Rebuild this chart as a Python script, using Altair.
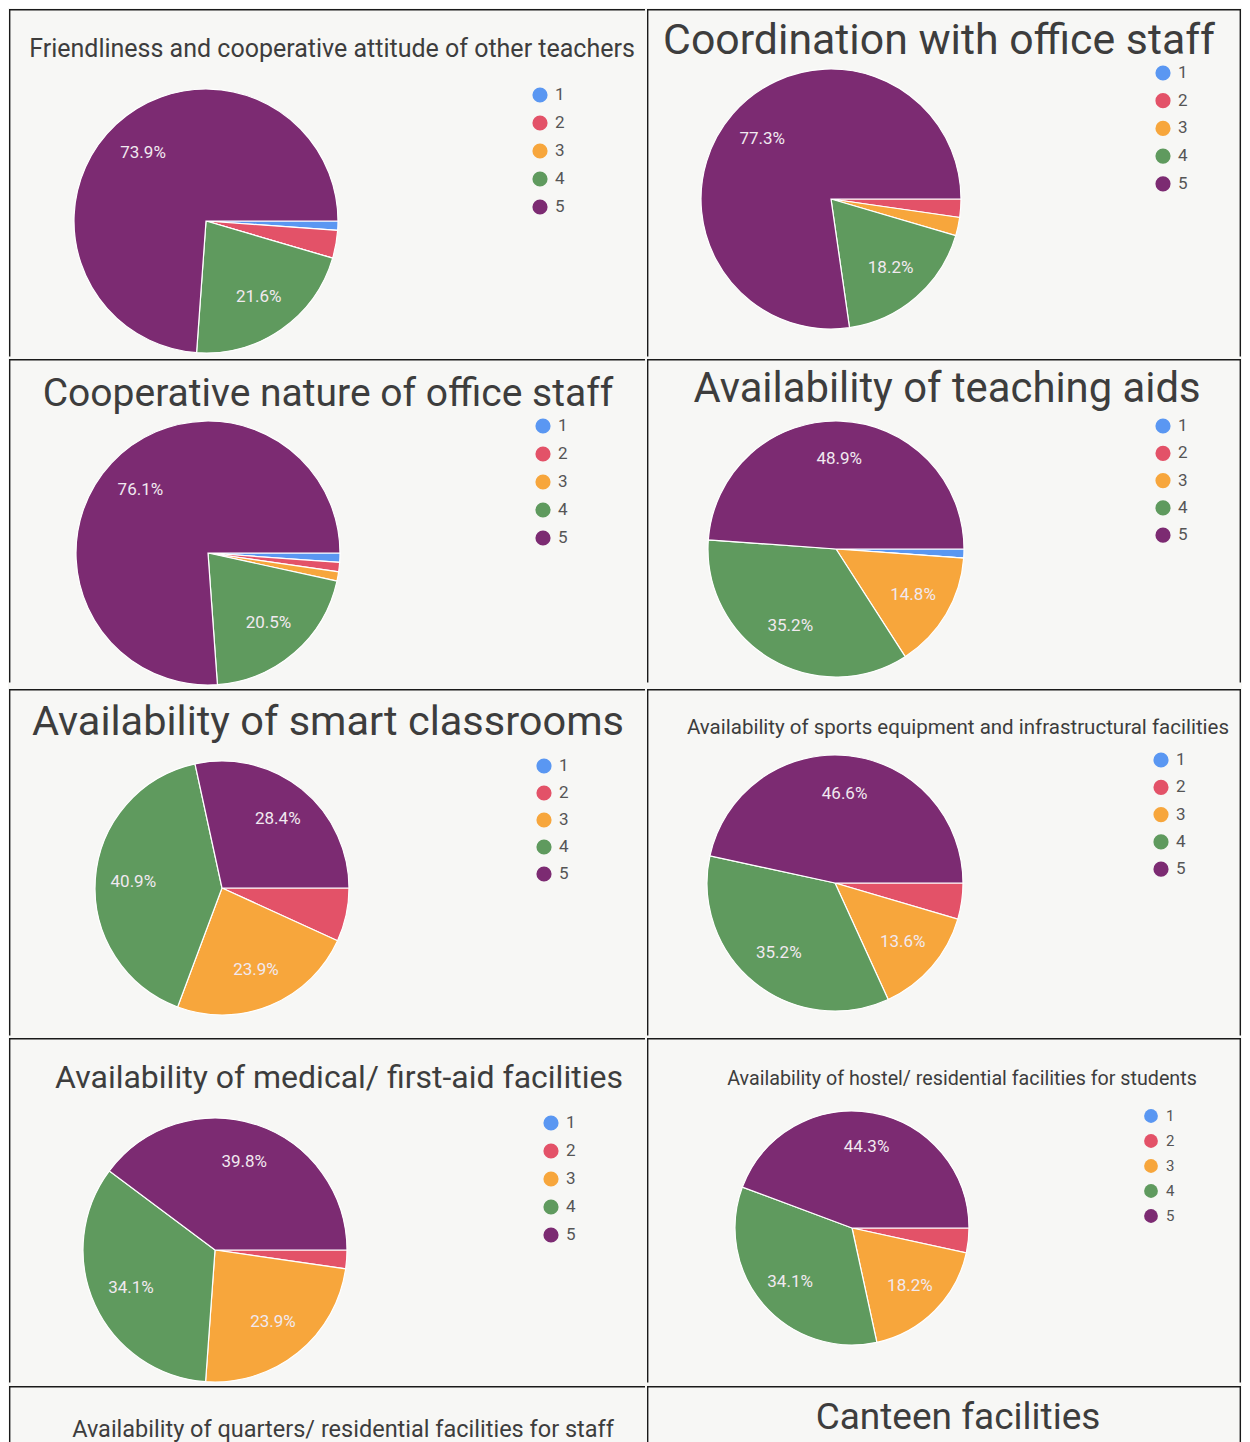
import math
import altair as alt
import pandas as pd

# ---------------- data ----------------
CATS = ["1", "2", "3", "4", "5"]
COLORS = ["#5a97f2", "#e35268", "#f7a63c", "#5f9a5e", "#7c2b72"]
N_RESP = 88

TITLES = [
    "Friendliness and cooperative attitude of other teachers",
    "Coordination with office staff",
    "Cooperative nature of office staff",
    "Availability of teaching aids",
    "Availability of smart classrooms",
    "Availability of sports equipment and infrastructural facilities",
    "Availability of medical/ first-aid facilities",
    "Availability of hostel/ residential facilities for students",
    "Availability of quarters/ residential facilities for staff",
    "Canteen facilities",
]

# response counts for ratings 1..5 (88 respondents)
COUNTS_FRIENDLINESS = [1, 3, 0, 19, 65]
COUNTS_COORDINATION = [0, 2, 2, 16, 68]
COUNTS_COOPERATIVE = [1, 1, 1, 18, 67]
COUNTS_TEACHING_AIDS = [1, 0, 13, 31, 43]
COUNTS_SMART_CLASS = [0, 6, 21, 36, 25]
COUNTS_SPORTS = [0, 4, 12, 31, 41]
COUNTS_MEDICAL = [0, 2, 21, 30, 35]
COUNTS_HOSTEL = [0, 3, 16, 30, 39]

# ---------------- layout (styles/positions) ----------------
LEFT_W, RIGHT_W = 636, 594
ROW_H = [347.5, 323.5, 346.5, 344.5, 56]
TXT = "#3d3d3d"
FONT = "Roboto"
LINE = "#1a1a1a"
LW = 1.4

color_scale = alt.Scale(domain=CATS, range=COLORS)
theta_scale = alt.Scale(range=[math.pi / 2, math.pi / 2 + 2 * math.pi])


def borders(w, h, right):
    one = pd.DataFrame({"a": [0]})
    e = LW / 2
    rules = [
        alt.Chart(one).mark_rule(color=LINE, strokeWidth=LW).encode(
            x=alt.value(0), x2=alt.value(w), y=alt.value(e)),
        alt.Chart(one).mark_rule(color=LINE, strokeWidth=LW).encode(
            x=alt.value(e), y=alt.value(0), y2=alt.value(h)),
    ]
    if right:
        rules.append(alt.Chart(one).mark_rule(color=LINE, strokeWidth=LW).encode(
            x=alt.value(w - e), y=alt.value(0), y2=alt.value(h)))
    return rules


def pie_panel(counts, title, w, h, right, cx, cy, r, tsize, tx, ty, lx, ly, lsp,
              sym=230, lsize=17):
    df = pd.DataFrame({
        "cat": CATS,
        "k": list(range(1, 6)),
        "count": counts,
    })
    pct = [c / N_RESP * 100 for c in counts]
    df["label"] = [f"{p:.1f}%" if p >= 10 else "" for p in pct]

    theta = alt.Theta("count:Q", stack=True, scale=theta_scale)
    order = alt.Order("k:Q")

    pie = alt.Chart(df).mark_arc(radius=r, stroke="white", strokeWidth=1.2).encode(
        theta=theta,
        order=order,
        color=alt.Color("cat:N", scale=color_scale, legend=None),
        x=alt.value(cx),
        y=alt.value(cy),
    )
    labels = alt.Chart(df).mark_text(
        radius=0.7 * r, fontSize=17, font=FONT, color="#f1e9f0"
    ).encode(
        theta=theta,
        order=order,
        text="label:N",
        x=alt.value(cx),
        y=alt.value(cy),
    )

    leg_df = pd.DataFrame({"cat": CATS, "k": list(range(1, 6))})
    ly_scale = alt.Scale(domain=[1, 5], range=[ly, ly + 4 * lsp])
    leg_pts = alt.Chart(leg_df).mark_circle(size=sym, opacity=1).encode(
        x=alt.value(lx),
        y=alt.Y("k:Q", scale=ly_scale, axis=None),
        color=alt.Color("cat:N", scale=color_scale, legend=None),
    )
    leg_txt = alt.Chart(leg_df).mark_text(
        align="left", baseline="middle", fontSize=lsize, font=FONT, color="#555555", dx=15
    ).encode(
        x=alt.value(lx),
        y=alt.Y("k:Q", scale=ly_scale, axis=None),
        text="cat:N",
    )

    ttl = alt.Chart(pd.DataFrame({"t": [title]})).mark_text(
        fontSize=tsize, font=FONT, color=TXT, align="center", baseline="middle"
    ).encode(text="t:N", x=alt.value(tx), y=alt.value(ty))

    return alt.layer(*borders(w, h, right), pie, labels, leg_pts, leg_txt, ttl).properties(
        width=w, height=h
    )


def title_panel(title, w, h, right, tsize, tx, ty):
    ttl = alt.Chart(pd.DataFrame({"t": [title]})).mark_text(
        fontSize=tsize, font=FONT, color=TXT, align="center", baseline="middle"
    ).encode(text="t:N", x=alt.value(tx), y=alt.value(ty))
    return alt.layer(*borders(w, h, right), ttl).properties(width=w, height=h)


p1 = pie_panel(COUNTS_FRIENDLINESS, TITLES[0], LEFT_W, ROW_H[0], False, 197, 212, 132, 25, 323, 40, 531, 86, 28)
p2 = pie_panel(COUNTS_COORDINATION, TITLES[1], RIGHT_W, ROW_H[0], True, 184, 190, 130, 42.8, 292, 32, 516, 64, 27.7)
p3 = pie_panel(COUNTS_COOPERATIVE, TITLES[2], LEFT_W, ROW_H[1], False, 199, 194, 132, 39, 319, 35, 534, 67, 28)
p4 = pie_panel(COUNTS_TEACHING_AIDS, TITLES[3], RIGHT_W, ROW_H[1], True, 189, 190, 128, 41.8, 300, 30, 516, 67, 27.3)
p5 = pie_panel(COUNTS_SMART_CLASS, TITLES[4], LEFT_W, ROW_H[2], False, 213, 199, 127, 41.5, 319, 34, 535, 77, 27)
p6 = pie_panel(COUNTS_SPORTS, TITLES[5], RIGHT_W, ROW_H[2], True, 188, 194, 128, 20.5, 311, 39, 514, 71, 27.3)
p7 = pie_panel(COUNTS_MEDICAL, TITLES[6], LEFT_W, ROW_H[3], False, 206, 212, 132, 32, 330, 40, 542, 85, 28)
p8 = pie_panel(COUNTS_HOSTEL, TITLES[7], RIGHT_W, ROW_H[3], True, 205, 190, 117, 19.7, 315, 41, 504, 78, 25,
               sym=190, lsize=15)
p9 = title_panel(TITLES[8], LEFT_W, ROW_H[4], False, 23.5, 334, 44)
p10 = title_panel(TITLES[9], RIGHT_W, ROW_H[4], True, 37, 311, 32)

rows = [
    alt.hconcat(p1, p2, spacing=0),
    alt.hconcat(p3, p4, spacing=0),
    alt.hconcat(p5, p6, spacing=0),
    alt.hconcat(p7, p8, spacing=0),
    alt.hconcat(p9, p10, spacing=0),
]

chart = alt.vconcat(*rows, spacing=0).properties(
    padding=0, background="#f7f7f5"
).configure_view(
    strokeWidth=0
)

chart.save("out.html", embed_options={"renderer": "svg", "actions": False})
